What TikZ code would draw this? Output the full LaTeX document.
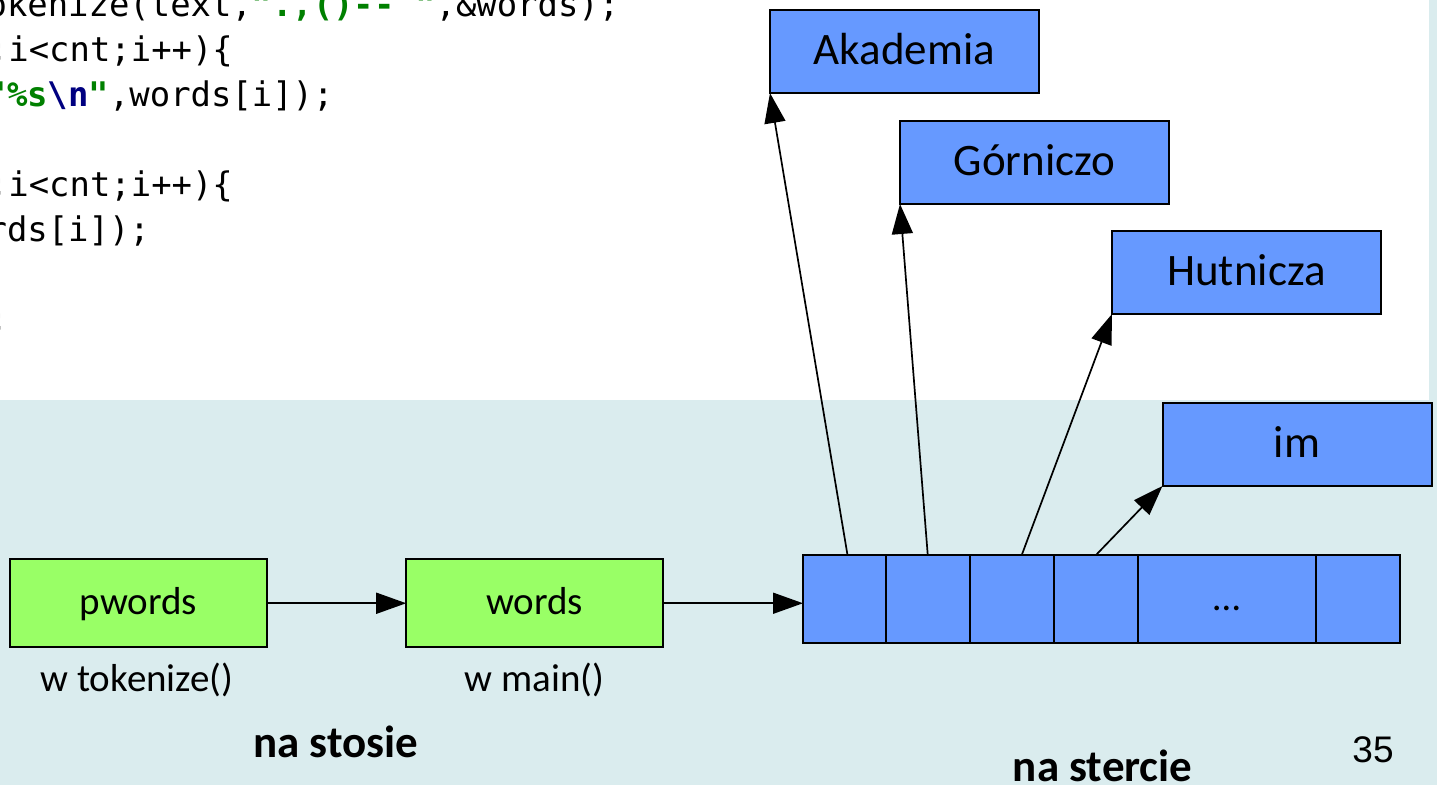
\documentclass[tikz,border=0pt]{standalone}
\usepackage{fontspec}
\setmainfont{Carlito}
\newfontfamily\codefont{DejaVu Sans Mono}
\newfontfamily\numfont{Liberation Sans}
\usetikzlibrary{arrows.meta}
\definecolor{bgblue}{RGB}{218,236,238}
\definecolor{boxblue}{RGB}{102,153,255}
\definecolor{boxgreen}{RGB}{153,255,102}
\definecolor{codegreen}{RGB}{0,128,0}
\definecolor{codenavy}{RGB}{0,0,128}
\tikzset{
  wordbox/.style={draw=black, line width=1pt, fill=boxblue, minimum width=134.5pt, minimum height=41.5pt,
    inner sep=0pt, outer sep=0pt, text height=13.5pt, text depth=0pt, font=\fontsize{22.5pt}{27pt}\selectfont},
  varbox/.style={draw=black, line width=1pt, fill=boxgreen, minimum width=128.5pt, minimum height=44.25pt,
    inner sep=0pt, outer sep=0pt, text height=11.75pt, text depth=0pt, font=\fontsize{19.5pt}{23pt}\selectfont},
  cell/.style={draw=black, line width=1pt, fill=boxblue, minimum height=43.85pt, inner sep=0pt, outer sep=0pt,
    anchor=north west, text height=12pt, text depth=0pt, font=\fontsize{19.5pt}{23pt}\selectfont},
  ptr/.style={line width=0.85pt, -{Triangle[length=15pt,width=10.5pt]}},
  codeline/.style={anchor=base west, inner sep=0pt, outer sep=0pt, font=\codefont\fontsize{16.95pt}{20pt}\selectfont},
  caption/.style={anchor=base, inner sep=0pt, font=\fontsize{19.5pt}{23pt}\selectfont},
  heading/.style={anchor=base, inner sep=0pt, font=\bfseries\fontsize{22.5pt}{27pt}\selectfont},
  pagenum/.style={anchor=base, inner sep=0pt, font=\numfont\fontsize{18.5pt}{22pt}\selectfont},
}
\begin{document}
\begin{tikzpicture}[x=0.5pt,y=-0.5pt]
\useasboundingbox (0,0) rectangle (1437,785);
\fill[bgblue] (0,0) rectangle (1437,785);
\fill[white] (0,0) rectangle (1429,400);

% code fragment (clipped at the left edge)
\begin{scope}
\clip (0,0) rectangle (1429,400);
\node[codeline] (l1) at (-33.8,17) {tokenize(text,{\bfseries\color{codegreen}".,()-\kern0pt- "},\&words);};
\node[codeline] (l2) at (-12,62) {;i<cnt;i++)\{};
\node[codeline] (l3) at (-13.4,107) {{\bfseries\color{codegreen}"\%s}{\bfseries\color{codenavy}\textbackslash n}{\bfseries\color{codegreen}"},words[i]);};
\node[codeline] (l5) at (-12,197) {;i<cnt;i++)\{};
\node[codeline] (l6) at (-13.4,242) {rds[i]);};
\node[codeline] (l8) at (-12,332) {;};
\end{scope}

% strings on the heap
\node[wordbox] (ak) at (904.5,51.5) {Akademia};
\node[wordbox] (go) at (1034.5,162.5) {Górniczo};
\node[wordbox] (hu) at (1246.5,272.5) {Hutnicza};
\node[wordbox] (im) at (1297,444.5) {im};

% pointer variables on the stack
\node[varbox] (pw) at (138.5,603.25) {pwords};
\node[varbox] (wd) at (534.7,603.25) {words};

% array of pointers
\node[cell, minimum width=41.5pt] (c1) at (803,555) {};
\node[cell, minimum width=41.75pt] (c2) at (886,555) {};
\node[cell, minimum width=42.25pt] (c3) at (969.5,555) {};
\node[cell, minimum width=42pt] (c4) at (1054,555) {};
\node[cell, minimum width=89pt] (c5) at (1138,555) {…};
\node[cell, minimum width=42pt] (c6) at (1316,555) {};

% connectors
\draw[ptr] (pw.east) -- (wd.west);
\draw[ptr] (wd.east) -- (wd.east -| c1.west);
\draw[ptr] ([xshift=1.5pt]c1.north) -- (ak.south west);
\draw[ptr] (c2.north) -- (go.south west);
\draw[ptr] ([xshift=5pt]c3.north) -- (hu.south west);
\draw[ptr] (c4.north) -- (im.south west);

% labels
\node[caption] (tk) at (137,692) {w tokenize()};
\node[caption] (mn) at (534.4,692) {w main()};
\node[heading] (st) at (335.5,758) {na stosie};
\node[heading] (sc) at (1102.7,782) {na stercie};
\node[pagenum] (pg) at (1373,763) {35};
\end{tikzpicture}
\end{document}
